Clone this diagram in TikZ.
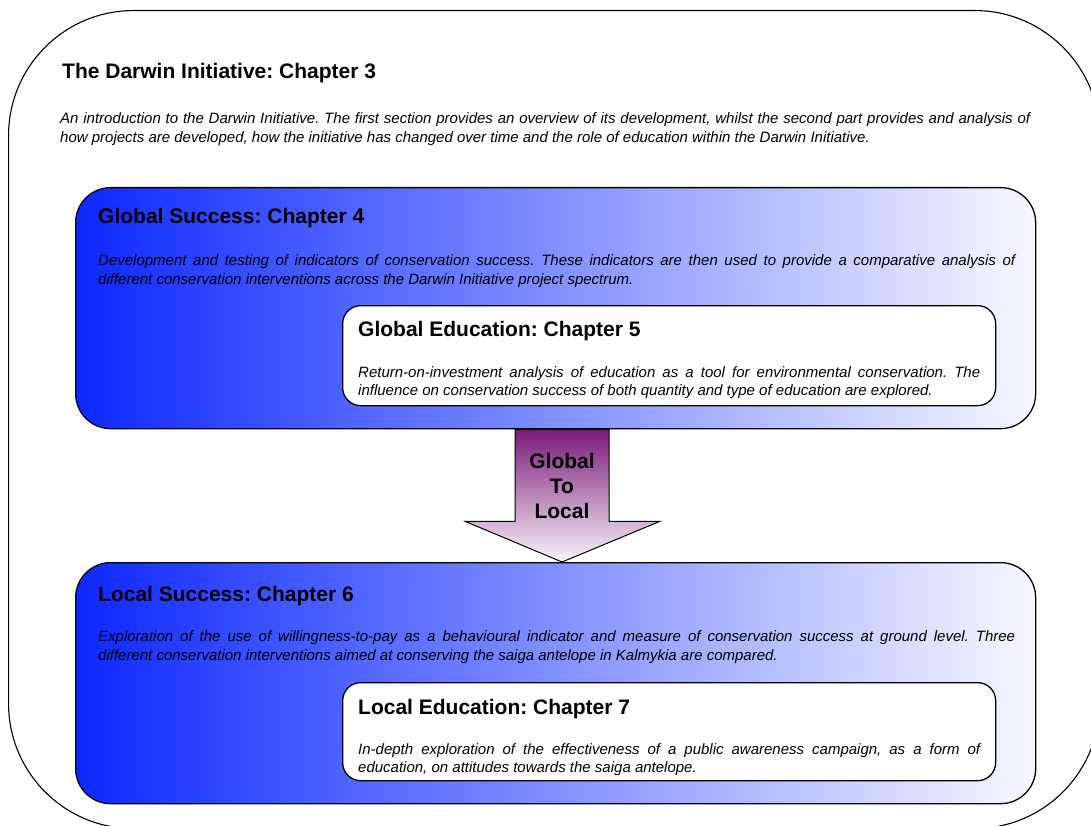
\documentclass[tikz,border=0pt]{standalone}
\usepackage{fontspec}
\setmainfont{Liberation Sans}
\usetikzlibrary{positioning, calc}

\definecolor{boxblue}{RGB}{12,40,255}
\definecolor{boxpale}{RGB}{248,248,255}
\definecolor{arrowpurple}{RGB}{122,26,122}
\definecolor{arrowpale}{RGB}{250,244,250}
\newcommand{\nohyph}{\hyphenpenalty=10000\relax}
\frenchspacing

\tikzset{
  outerbox/.style={draw, line width=1.1pt, rounded corners=125pt, anchor=north west, inner sep=0pt},
  successbox/.style={draw, line width=1.3pt, rounded corners=35pt, left color=boxblue, right color=boxpale, anchor=north west, inner sep=0pt},
  edubox/.style={draw, line width=1.3pt, fill=white, rounded corners=18pt, anchor=north west, inner sep=0pt},
  chaptitle/.style={font=\bfseries\fontsize{21}{24}\selectfont, anchor=base west, inner sep=0pt},
  chapblurb/.style={font=\itshape\fontsize{15}{18.8}\selectfont, align=justify, anchor=north west, inner sep=0pt,
    execute at begin node=\nohyph},
  arrowbody/.style={draw, line width=1pt, top color=arrowpurple, bottom color=arrowpale},
}

\begin{document}
\begin{tikzpicture}[x=1pt, y=-1pt]
    \useasboundingbox (0,0) rectangle (1091,826);
    \clip (0,0) rectangle (1091,826);
    % Chapter 3 frame
    \node[outerbox, minimum width=1091pt, minimum height=818pt] (darwin) at (8,10) {};
    \node[chaptitle] (darwintitle) at (62,79) {The Darwin Initiative: Chapter 3};
    \node[chapblurb, text width=970pt] (darwintext) at (60,112.5) {An introduction to the Darwin Initiative. The first section provides an overview of its development, whilst the second part provides and analysis of\linebreak how projects are developed, how the initiative has changed over time and the role of education within the Darwin Initiative.};
    % Global level
    \node[successbox, minimum width=960pt, minimum height=241pt] (globsucc) at (75,187) {};
    \node[chaptitle] (globsucctitle) at (98,224) {Global Success: Chapter 4};
    \node[chapblurb, text width=917pt] (globsucctext) at (98,254.5) {Development and testing of indicators of conservation success. These indicators are then used to provide a comparative analysis of\linebreak different conservation interventions across the Darwin Initiative project spectrum.};
    \node[edubox, minimum width=653pt, minimum height=100pt] (globedu) at (342,305) {};
    \node[chaptitle] (globedutitle) at (358,336) {Global Education: Chapter 5};
    \node[chapblurb, text width=622pt] (globedutext) at (358,366) {Return-on-investment analysis of education as a tool for environmental conservation. The\linebreak influence on conservation success of both quantity and type of education are explored.};
    % Local level
    \node[successbox, minimum width=960pt, minimum height=241pt] (locsucc) at (75,562) {};
    \node[chaptitle] (locsucctitle) at (98,601) {Local Success: Chapter 6};
    \node[chapblurb, text width=917pt] (locsucctext) at (98,630.5) {Exploration of the use of willingness-to-pay as a behavioural indicator and measure of conservation success at ground level. Three\linebreak different conservation interventions aimed at conserving the saiga antelope in Kalmykia are compared.};
    \node[edubox, minimum width=653pt, minimum height=98pt] (locedu) at (342,682) {};
    \node[chaptitle] (locedutitle) at (358,714) {Local Education: Chapter 7};
    \node[chapblurb, text width=622pt] (locedutext) at (358,743) {In-depth exploration of the effectiveness of a public awareness campaign, as a form of\linebreak education, on attitudes towards the saiga antelope.};
    % Global to local arrow
    \coordinate (gtltop) at (globsucc.south -| 562,0);
    \coordinate (gtltip) at (locsucc.north -| 562,0);
    \shadedraw[arrowbody] ($(gtltop)+(-47,0)$) -- ++(94,0) -- ++(0,92) -- ++(51,0) -- (gtltip) -- ($(gtltop)+(-97,92)$) -- ++(50,0) -- cycle;
    \node[font=\bfseries\fontsize{21}{25}\selectfont, align=center, inner sep=0pt] (gtllabel) at (562,486) {Global\\To\\Local};
\end{tikzpicture}
\end{document}
